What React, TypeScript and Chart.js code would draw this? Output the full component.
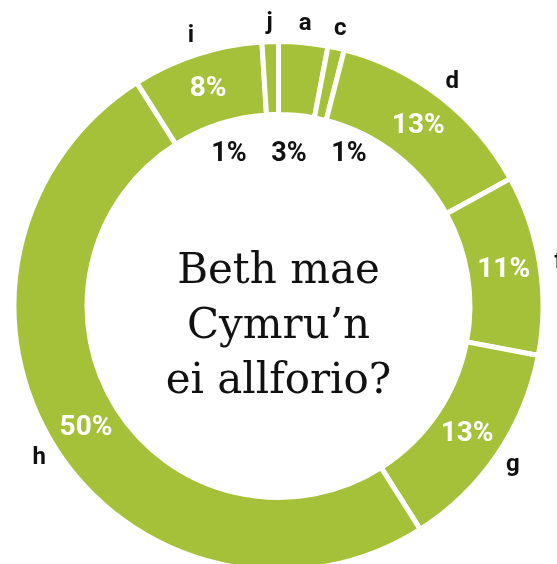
import React, { useEffect, useRef } from "react";
import { Chart, registerables } from "chart.js";

Chart.register(...registerables);

const categories = ["a", "c", "d", "f", "g", "h", "i", "j"];
const shares = [3, 1, 13, 11, 13, 50, 8, 1];
const titleLines = ["Beth mae", "Cymru’n", "ei allforio?"];

const GREEN = "#a5c13a";
const SMALL_LIMIT = 5;

const ringLabels = {
  id: "ringLabels",
  afterDatasetsDraw(chart: any) {
    const ctx = chart.ctx as CanvasRenderingContext2D;
    const arcs = chart.getDatasetMeta(0).data;
    if (!arcs.length) return;
    const base = arcs[0].getProps(["x", "y", "innerRadius", "outerRadius"], true);
    const cx = base.x, cy = base.y;
    const inner = base.innerRadius, outer = base.outerRadius;
    const midR = (inner + outer) / 2;
    const small: { i: number; rel: number }[] = [];
    ctx.save();
    ctx.textAlign = "center";
    ctx.textBaseline = "middle";
    arcs.forEach((arc: any, i: number) => {
      const p = arc.getProps(["startAngle", "endAngle"], true);
      const mid = (p.startAngle + p.endAngle) / 2;
      const lr = outer + 19;
      ctx.fillStyle = "#111111";
      ctx.font = "bold 24px Roboto";
      ctx.fillText(categories[i], cx + Math.cos(mid) * lr, cy + Math.sin(mid) * lr);
      if (shares[i] >= SMALL_LIMIT) {
        ctx.fillStyle = "#ffffff";
        ctx.font = "bold 28px Roboto";
        ctx.fillText(shares[i] + "%", cx + Math.cos(mid) * midR, cy + Math.sin(mid) * midR);
      } else {
        let rel = mid + Math.PI / 2;
        while (rel > Math.PI) rel -= 2 * Math.PI;
        while (rel <= -Math.PI) rel += 2 * Math.PI;
        small.push({ i, rel });
      }
    });
    small.sort((a, b) => a.rel - b.rel);
    const avgSin = small.reduce((s, o) => s + Math.sin(o.rel), 0) / (small.length || 1);
    const rowX = cx + avgSin * inner * 0.58;
    const gap = 60;
    const rowY = cy - inner + 40;
    ctx.fillStyle = "#111111";
    ctx.font = "bold 27px Roboto";
    small.forEach((o, k) => {
      const x = rowX + (k - (small.length - 1) / 2) * gap;
      ctx.fillText(shares[o.i] + "%", x, rowY);
    });
    ctx.textBaseline = "alphabetic";
    ctx.font = "42px 'DejaVu Serif'";
    ctx.fillStyle = "#111111";
    const offs = [-23, 32, 87];
    titleLines.forEach((t, k) => ctx.fillText(t, cx, cy + offs[k]));
    ctx.restore();
  },
};

export default function App() {
  const ref = useRef<HTMLCanvasElement | null>(null);
  useEffect(() => {
    if (!ref.current) return;
    const chart = new Chart(ref.current, {
      type: "doughnut",
      data: {
        labels: categories,
        datasets: [
          {
            data: shares,
            backgroundColor: GREEN,
            borderColor: "#ffffff",
            borderWidth: 5,
            clip: false as any,
          },
        ],
      },
      options: {
        animation: false,
        responsive: false,
        devicePixelRatio: 1,
        radius: 264.5,
        cutout: "72.4%",
        layout: { padding: { top: 48 } },
        plugins: { legend: { display: false }, tooltip: { enabled: false } },
        events: [],
      } as any,
      plugins: [ringLabels],
    });
    return () => chart.destroy();
  }, []);
  return (
    <div style={{ position: "fixed", left: 0, top: 0, width: 557, height: 564, overflow: "hidden", background: "#fff" }}>
      <canvas ref={ref} width={557} height={564} style={{ display: "block" }} />
    </div>
  );
}
